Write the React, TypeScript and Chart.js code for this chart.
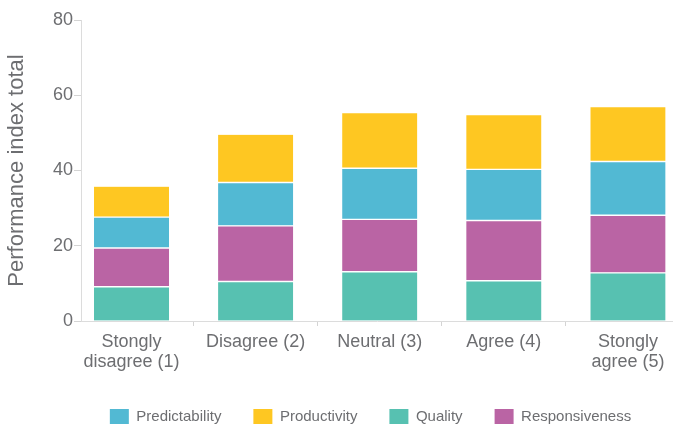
import { useEffect, useRef } from "react";
import { Chart, registerables } from "chart.js";

Chart.register(...registerables);

// ---- data ----
const CATEGORIES: string[][] = [
  ["Stongly", "disagree (1)"],
  ["Disagree (2)"],
  ["Neutral (3)"],
  ["Agree (4)"],
  ["Stongly", "agree (5)"],
];
const QUALITY = [9.1, 10.5, 13.1, 10.7, 12.8];
const RESPONSIVENESS = [10.3, 14.8, 13.9, 16.0, 15.3];
const PREDICTABILITY = [8.2, 11.5, 13.6, 13.6, 14.3];
const PRODUCTIVITY = [8.1, 12.7, 14.6, 14.4, 14.4];
const Y_MIN = 0;
const Y_MAX = 80;
const Y_STEP = 20;
const LEGEND_ORDER = ["Predictability", "Productivity", "Quality", "Responsiveness"];
const Y_TITLE = "Performance index total";

const FONT = "'Liberation Sans', Arial, sans-serif";
const TEXT = "#6d6e71";

const legendShift = {
  id: "legendShift",
  afterLayout(chart: any) {
    const l = chart.legend;
    if (!l) return;
    l.left += 34;
    l.right += 34;
  },
};

export default function App() {
  const ref = useRef<HTMLCanvasElement | null>(null);

  useEffect(() => {
    if (!ref.current) return;
    const toPts = (arr: number[]) => arr.map((v, i) => ({ x: i, y: v }));
    const mk = (label: string, arr: number[], color: string, bw: any) => ({
      label,
      data: toPts(arr),
      backgroundColor: color,
      borderColor: "#ffffff",
      borderWidth: bw,
      borderSkipped: false as const,
      barThickness: 75,
    });
    const chart = new Chart(ref.current, {
      type: "bar",
      data: {
        datasets: [
          mk("Quality", QUALITY, "#57c1b1", { top: 1, bottom: 0, left: 0, right: 0 }),
          mk("Responsiveness", RESPONSIVENESS, "#ba64a4", { top: 1, bottom: 1, left: 0, right: 0 }),
          mk("Predictability", PREDICTABILITY, "#52b9d3", { top: 1, bottom: 1, left: 0, right: 0 }),
          mk("Productivity", PRODUCTIVITY, "#fec722", { top: 0, bottom: 1, left: 0, right: 0 }),
        ] as any,
      },
      options: {
        animation: false,
        responsive: false,
        layout: { padding: { top: 20, right: 0, bottom: -7, left: 0 } },
        scales: {
          x: {
            type: "linear",
            stacked: true,
            bounds: "data",
            offset: false,
            min: -0.407,
            max: 4.363,
            afterBuildTicks: (s: any) => {
              s.ticks = CATEGORIES.map((_, i) => ({ value: i }));
            },
            afterFit: (s: any) => {
              s.height = 56;
            },
            ticks: {
              stepSize: 1,
              includeBounds: false,
              callback: (v: any) => CATEGORIES[v as number] ?? "",
              autoSkip: false,
              maxRotation: 0,
              minRotation: 0,
              padding: 6,
              color: TEXT,
              font: { family: FONT, size: 18, lineHeight: 1.1 },
            },
            grid: {
              offset: true,
              drawOnChartArea: false,
              drawTicks: true,
              tickLength: 5,
              color: "#d4d4d4",
            },
            border: { color: "#dcdcdc", width: 1 },
          },
          y: {
            stacked: true,
            min: Y_MIN,
            max: Y_MAX,
            afterFit: (s: any) => {
              s.width = 81;
            },
            ticks: {
              stepSize: Y_STEP,
              padding: 1,
              color: TEXT,
              font: { family: FONT, size: 18 },
            },
            grid: {
              drawOnChartArea: false,
              drawTicks: true,
              tickLength: 7,
              color: "#d4d4d4",
            },
            border: { color: "#dcdcdc", width: 1 },
            title: {
              display: true,
              text: Y_TITLE,
              color: TEXT,
              font: { family: FONT, size: 22 },
              padding: { top: 4, bottom: 4 },
            },
          },
        },
        plugins: {
          tooltip: { enabled: false },
          legend: {
            position: "bottom",
            labels: {
              boxWidth: 19,
              boxHeight: 15,
              padding: 32,
              color: TEXT,
              font: { family: FONT, size: 15 },
              generateLabels: (c: any) =>
                (Chart.defaults.plugins.legend.labels as any)
                  .generateLabels(c)
                  .map((l: any) => ({ ...l, lineWidth: 0 })),
              sort: (a: any, b: any) =>
                LEGEND_ORDER.indexOf(a.text) - LEGEND_ORDER.indexOf(b.text),
            },
          },
        },
      } as any,
      plugins: [legendShift],
    });
    return () => chart.destroy();
  }, []);

  return (
    <div style={{ position: "fixed", left: 0, top: 0, width: 673, height: 427, background: "#fff" }}>
      <canvas ref={ref} width={673} height={427} />
    </div>
  );
}
